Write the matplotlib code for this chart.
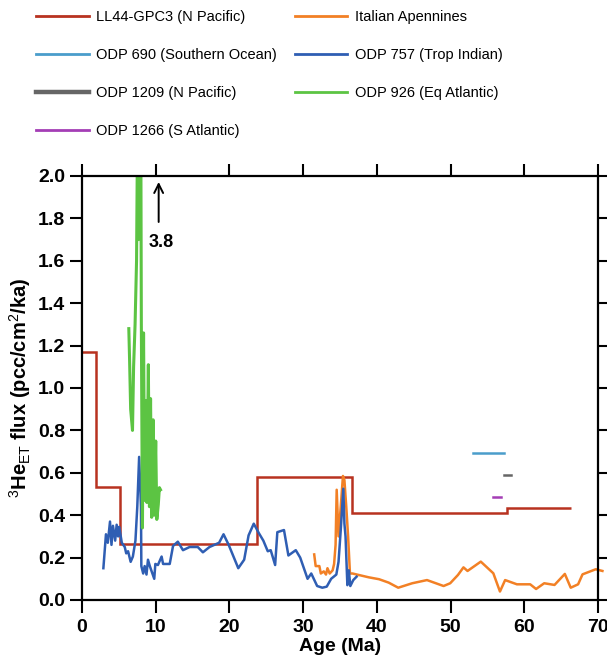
import numpy as np
import matplotlib
matplotlib.use('Agg')
from matplotlib import pyplot as plt
from matplotlib.lines import Line2D

plt.rcParams['font.family'] = ['Liberation Sans', 'DejaVu Sans']
plt.rcParams['mathtext.fontset'] = 'custom'
plt.rcParams['mathtext.rm'] = 'Liberation Sans'
plt.rcParams['mathtext.bf'] = 'Liberation Sans:bold'

# -----------------------------------------------
# данные
# LL44-GPC3 (N Pacific) - ступенчатая кривая
ll44_edges = [0, 1.9, 5.2, 23.7, 36.6, 57.6, 66.4]
ll44_flux = [1.17, 0.534, 0.263, 0.579, 0.41, 0.434]

# Italian Apennines
apen_age = [31.5, 31.7, 32.2, 32.4, 32.8, 33.1, 33.3, 33.6, 34.0, 34.2, 34.4, 34.55,
            34.8, 35.1, 35.4, 35.6, 35.85, 36.1, 36.35, 36.7, 38.9, 40.3, 41.6, 42.9,
            44.8, 46.8, 49.05, 49.95, 51.0, 51.75, 52.3, 54.1, 55.8, 56.7, 57.4, 59.0,
            60.8, 61.6, 62.7, 64.1, 65.5, 66.3, 67.3, 67.9, 69.7, 70.6]
apen_flux = [0.215, 0.16, 0.16, 0.125, 0.135, 0.12, 0.15, 0.125, 0.14, 0.17, 0.26, 0.52,
             0.30, 0.44, 0.585, 0.565, 0.44, 0.30, 0.125, 0.125, 0.107, 0.098, 0.082, 0.058,
             0.079, 0.094, 0.066, 0.079, 0.118, 0.154, 0.137, 0.181, 0.126, 0.04, 0.094, 0.074,
             0.074, 0.052, 0.079, 0.071, 0.123, 0.058, 0.074, 0.121, 0.145, 0.137]

# ODP 690, 1209, 1266 - короткие отрезки
odp690_age = [53.1, 57.3]
odp690_flux = [0.692, 0.692]
odp1209_age = [57.3, 58.2]
odp1209_flux = [0.59, 0.59]
odp1266_age = [55.7, 56.85]
odp1266_flux = [0.484, 0.484]

# ODP 757 (Trop Indian)
odp757_age = [2.9, 3.25, 3.5, 3.8, 4.0, 4.2, 4.5, 4.7, 4.9, 5.05, 5.4, 5.8, 6.0, 6.25,
              6.6, 6.9, 7.25, 7.5, 7.75, 8.0, 8.05, 8.3, 8.5, 8.75, 8.95, 9.2, 9.4, 9.8,
              9.95, 10.3, 10.8, 11.0, 11.4, 11.9, 12.35, 13.0, 13.7, 14.6, 15.7, 16.4,
              17.3, 18.6, 19.2, 19.9, 21.2, 22.0, 22.6, 23.3, 24.0, 24.6, 25.2, 25.6,
              26.2, 26.5, 27.4, 28.0, 29.0, 29.6, 30.6, 31.1, 31.9, 32.6, 33.2, 33.8,
              34.5, 34.8, 35.1, 35.45, 35.6, 35.75, 36.0, 36.2, 36.4, 36.8, 37.25]
odp757_flux = [0.15, 0.31, 0.27, 0.37, 0.26, 0.35, 0.28, 0.355, 0.30, 0.345, 0.27, 0.25,
               0.22, 0.23, 0.18, 0.205, 0.28, 0.44, 0.675, 0.44, 0.16, 0.125, 0.16, 0.12,
               0.19, 0.16, 0.14, 0.10, 0.17, 0.165, 0.205, 0.17, 0.17, 0.17, 0.255, 0.275,
               0.235, 0.25, 0.25, 0.225, 0.25, 0.27, 0.31, 0.26, 0.15, 0.19, 0.305, 0.36,
               0.315, 0.28, 0.23, 0.235, 0.165, 0.32, 0.33, 0.21, 0.235, 0.2, 0.10, 0.125,
               0.066, 0.058, 0.063, 0.10, 0.12, 0.18, 0.33, 0.525, 0.36, 0.30, 0.07, 0.14,
               0.066, 0.094, 0.11]

# ODP 926 (Eq Atlantic)
odp926_age = [6.35, 6.45, 6.6, 6.85, 7.0, 7.2, 7.4, 7.55, 7.65, 7.75, 7.85, 7.95, 8.05,
              8.2, 8.35, 8.5, 8.65, 8.8, 9.0, 9.15, 9.3, 9.45, 9.65, 9.8, 10.0, 10.15,
              10.35, 10.5, 10.65]
odp926_flux = [1.28, 1.14, 0.90, 0.80, 1.10, 1.30, 1.60, 2.30, 1.70, 3.8, 1.75, 2.6, 1.30,
               0.34, 1.26, 0.47, 0.94, 0.46, 1.11, 0.44, 0.95, 0.39, 0.85, 0.40, 0.75,
               0.38, 0.45, 0.53, 0.52]
# -----------------------------------------------

c_red = '#b83220'
c_orange = '#f28025'
c_lblue = '#4a9dcb'
c_blue = '#2f5eb3'
c_gray = '#666666'
c_green = '#5cc443'
c_purple = '#a43db5'

fig = plt.figure(figsize=(6.07, 6.61), dpi=100)
ax = fig.add_axes([82 / 607, 61 / 661, 516 / 607, 424 / 661])

lw = 1.8
ax.stairs(ll44_flux, ll44_edges, baseline=None, color=c_red, lw=lw)
ax.plot(odp690_age, odp690_flux, color=c_lblue, lw=lw)
ax.plot(odp1209_age, odp1209_flux, color=c_gray, lw=lw)
ax.plot(odp1266_age, odp1266_flux, color=c_purple, lw=lw)
ax.plot(apen_age, apen_flux, color=c_orange, lw=lw, clip_on=False)
ax.plot(odp757_age, odp757_flux, color=c_blue, lw=lw)
ax.plot(odp926_age, odp926_flux, color=c_green, lw=2.2)

# стрелка для значения за пределами оси
ax.annotate('', xy=(10.4, 1.985), xytext=(10.4, 1.77),
            arrowprops=dict(arrowstyle='->', color='black', lw=1.4, mutation_scale=16))
ax.text(10.75, 1.685, '3.8', fontsize=13, fontweight='bold', ha='center', va='center')

ax.set_xlim(0, 70)
ax.set_ylim(0, 2.0)
ax.set_xticks(np.arange(0, 71, 10))
ax.set_yticks(np.arange(0, 2.01, 0.2))
ax.set_yticklabels([f'{v:.1f}' for v in np.arange(0, 2.01, 0.2)])
ax.tick_params(direction='out', length=9, width=1.5, labelsize=14, pad=3,
               top=True, right=True, labeltop=False, labelright=False)
ax.tick_params(axis='x', pad=5)
for lab in ax.get_xticklabels() + ax.get_yticklabels():
    lab.set_fontweight('bold')
for s in ax.spines.values():
    s.set_linewidth(1.6)

ax.set_xlabel('Age (Ma)', fontsize=14, fontweight='bold', labelpad=1)
ax.set_ylabel(r'$^{3}$He$_{\mathrm{ET}}$ flux (pcc/cm$^{2}$/ka)', fontsize=14.5,
              fontweight='bold', labelpad=4)

# легенда: слева LL44, 690, 1209, 1266; справа Apennines, 757, 926
leg_labels = ['LL44-GPC3 (N Pacific)', 'ODP 690 (Southern Ocean)', 'ODP 1209 (N Pacific)',
              'ODP 1266 (S Atlantic)', 'Italian Apennines', 'ODP 757 (Trop Indian)',
              'ODP 926 (Eq Atlantic)']
leg_colors = [c_red, c_lblue, c_gray, c_purple, c_orange, c_blue, c_green]
leg_lw = [2, 2, 3.2, 2, 2, 2, 2]
handles = [Line2D([], [], color=c, lw=w) for c, w in zip(leg_colors, leg_lw)]
fig.legend(handles, leg_labels, loc='upper left', bbox_to_anchor=(36 / 607, 0.985), ncol=2,
           frameon=False, fontsize=10.5, handlelength=3.6, handletextpad=0.5,
           columnspacing=1.25, labelspacing=1.65, borderaxespad=0, borderpad=0)

fig.savefig('out.png', dpi=100)
